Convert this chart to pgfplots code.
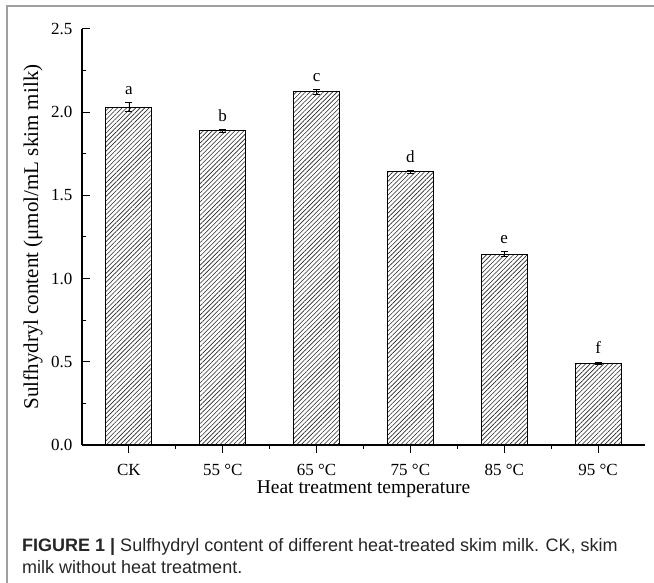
\documentclass[border=0pt]{standalone}
\usepackage{fontspec}
\setmainfont{Liberation Serif}
\newfontfamily\capfont{Liberation Sans}
\usepackage{pgfplots}
\usepackage{pgfplotstable}
\pgfplotsset{compat=1.18}
\usetikzlibrary{patterns.meta}

\pgfplotstableread{
x y e
0 2.031 0.025
1 1.889 0.010
2 2.123 0.015
3 1.641 0.010
4 1.146 0.015
5 0.491 0.008
}\datatable

\begin{document}
\begin{tikzpicture}
\draw[gray!75, line width=1.3pt] (7pt,0pt) -- (7pt,577pt) -- (654pt,577pt);
\begin{axis}[
  at={(82pt,138pt)}, anchor=south west,
  scale only axis, width=563pt, height=416pt,
  xmin=-0.5, xmax=5.5, ymin=0, ymax=2.5,
  axis lines*=left,
  axis line style={line width=1.3pt},
  tick align=inside,
  major tick length=8pt, minor tick length=4pt,
  tick style={line width=1pt, black},
  xtick={0,1,2,3,4,5},
  xticklabels={CK,55 °C,65 °C,75 °C,85 °C,95 °C},
  minor xtick={0.5,1.5,2.5,3.5,4.5},
  ytick={0,0.5,1,1.5,2,2.5},
  yticklabels={0.0,0.5,1.0,1.5,2.0,2.5},
  minor ytick={0.25,0.75,1.25,1.75,2.25},
  tick label style={font=\fontsize{17}{17}\selectfont},
  xticklabel style={anchor=base, yshift=-23pt},
  yticklabel style={anchor=east, xshift=-6pt},
  xlabel={Heat treatment temperature},
  ylabel={Sulfhydryl content (μmol/mL skim milk)},
  xlabel style={font=\fontsize{19.5}{19.5}\selectfont, at={(axis description cs:0.5,-0.106)}, anchor=center},
  ylabel style={font=\fontsize{21}{21}\selectfont, at={(axis description cs:-0.087,0.5)}, anchor=center},
  axis on top,
  ybar, bar width=46pt,
  clip=false,
]
\addplot[ybar, draw=black, line width=1pt,
  pattern={Lines[angle=45, distance=3.2pt, line width=0.6pt]}, pattern color=black!85,
  error bars/.cd, y dir=both, y explicit,
  error bar style={line width=0.8pt, black},
  error mark options={rotate=90, mark size=3.5pt, line width=0.8pt, black}]
  table[x=x, y=y, y error=e] {\datatable};
\begin{scope}[every node/.style={font=\fontsize{17}{17}\selectfont, anchor=base, yshift=8pt}]
\node at (axis cs:0,2.056) {a};
\node at (axis cs:1,1.899) {b};
\node at (axis cs:2,2.138) {c};
\node at (axis cs:3,1.651) {d};
\node at (axis cs:4,1.161) {e};
\node at (axis cs:5,0.499) {f};
\end{scope}
\end{axis}
\node[anchor=base west, inner sep=0pt, text=black!85, font=\capfont\fontsize{18}{18}\selectfont] at (22pt,31pt) {\textbf{FIGURE 1 |} Sulfhydryl content of different heat-treated skim milk. CK, skim};
\node[anchor=base west, inner sep=0pt, text=black!85, font=\capfont\fontsize{18}{18}\selectfont] at (22pt,9pt) {milk without heat treatment.};
\pgfresetboundingbox
\path[use as bounding box] (0pt,0pt) rectangle (654pt,583pt);
\end{tikzpicture}
\end{document}
